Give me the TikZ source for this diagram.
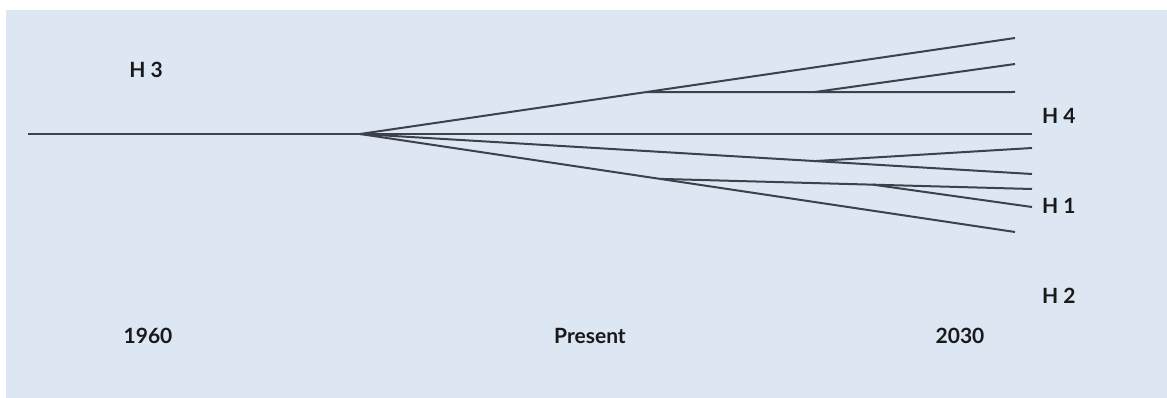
\documentclass[tikz,border=0pt]{standalone}
\usepackage{fontspec}
\usetikzlibrary{calc}
\setmainfont{Lato}
\definecolor{bgblue}{RGB}{221,230,243}
\definecolor{linegray}{RGB}{60,65,75}
\definecolor{txt}{RGB}{25,25,25}
\begin{document}
\begin{tikzpicture}[x=1pt,y=-1pt,
  branch/.style={draw=linegray,line width=2pt},
  lbl/.style={font=\fontsize{21}{24}\selectfont\bfseries,text=txt,inner sep=0pt}]
\useasboundingbox (0,0) rectangle (1167,398);
\fill[bgblue] (6,10) rectangle (1167,398);
% coordinates
\coordinate (start) at (28,134);
\coordinate (root) at (360,134);
\coordinate (h4end) at (1032,134);
\coordinate (up) at (1015,38);
\coordinate (u1) at ($(root)!0.435!(up)$);
\coordinate (u1end) at (1015,92);
\coordinate (u2) at (815,92);
\coordinate (u2end) at (1015,64);
\coordinate (aend) at (1032,174);
\coordinate (a1) at ($(root)!0.677!(aend)$);
\coordinate (a1end) at (1032,148);
\coordinate (bend) at (1015,232);
\coordinate (b1) at ($(root)!0.458!(bend)$);
\coordinate (b1end) at (1032,189);
\coordinate (b2) at ($(b1)!0.5726!(b1end)$);
\coordinate (b2end) at (1032,207);
% lines
\draw[branch] (start) -- (h4end);
\draw[branch] (root) -- (up);
\draw[branch] (u1) -- (u1end);
\draw[branch] (u2) -- (u2end);
\draw[branch] (root) -- (aend);
\draw[branch] (a1) -- (a1end);
\draw[branch] (root) -- (bend);
\draw[branch] (b1) -- (b1end);
\draw[branch] (b2) -- (b2end);
% labels
\node[lbl] (h3) at (146,70) {H 3};
\node[lbl,anchor=west] (h4) at (1042,116) {H 4};
\node[lbl,anchor=west] (h1) at (1042,206) {H 1};
\node[lbl,anchor=west] (h2) at (1042,296) {H 2};
\node[lbl] (y1960) at (148,336) {1960};
\node[lbl] (present) at (590,336) {Present};
\node[lbl] (y2030) at (960,336) {2030};
\end{tikzpicture}
\end{document}
